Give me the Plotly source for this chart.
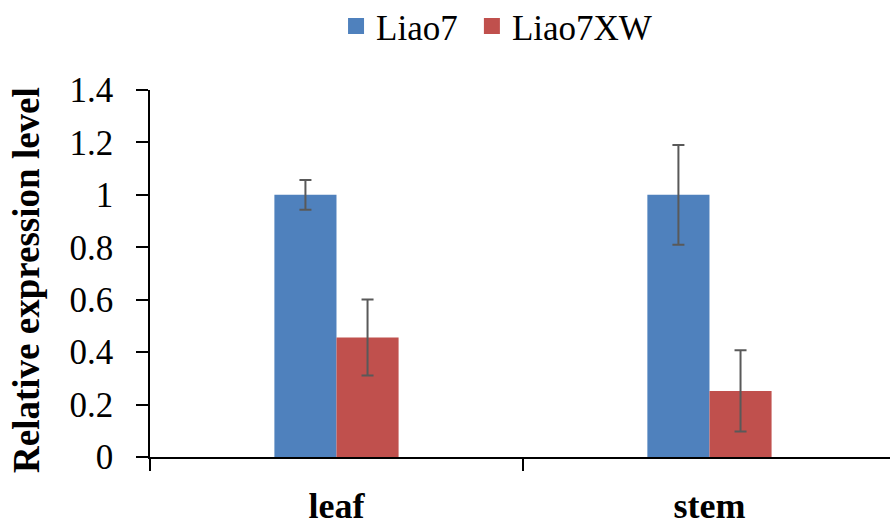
import plotly.graph_objects as go

categories = ["leaf", "stem"]
series_names = ["Liao7", "Liao7XW"]
liao7_values = [1.0, 1.0]
liao7_errors = [0.057, 0.19]
liao7xw_values = [0.456, 0.252]
liao7xw_errors = [0.145, 0.155]
y_tick_values = [0, 0.2, 0.4, 0.6, 0.8, 1.0, 1.2, 1.4]
y_tick_labels = ["0", "0.2", "0.4", "0.6", "0.8", "1", "1.2", "1.4"]

colors = ["#4F81BD", "#C0504D"]
font_family = "Liberation Serif"

fig = go.Figure()
for name, vals, errs, col, leg in [
    (series_names[0], liao7_values, liao7_errors, colors[0], "legend"),
    (series_names[1], liao7xw_values, liao7xw_errors, colors[1], "legend2"),
]:
    fig.add_trace(go.Bar(
        x=categories, y=vals, name=name, marker_color=col,
        marker_line_width=0, showlegend=False,
        error_y=dict(type="data", array=errs, visible=True,
                     color="#595959", thickness=2, width=6),
    ))
    # legend proxy with larger square symbol
    fig.add_trace(go.Scatter(
        x=[None], y=[None], mode="markers", name=name, legend=leg,
        marker=dict(symbol="square", size=20, color=col),
    ))

legend_common = dict(orientation="h", xanchor="left",
                     yref="container", y=0.95, yanchor="middle",
                     font=dict(size=35, family=font_family), itemsizing="trace",
                     bgcolor="rgba(0,0,0,0)")

fig.update_layout(
    width=890, height=527,
    margin=dict(l=150, r=0, t=90, b=70, autoexpand=False),
    paper_bgcolor="white", plot_bgcolor="white",
    font=dict(family=font_family, color="black", size=35),
    barmode="group", bargap=0.667, bargroupgap=0,
    legend=dict(x=0.2514, **legend_common),
    legend2=dict(x=0.435, **legend_common),
    xaxis=dict(
        range=[-0.5, 1.484], showline=True, linecolor="black", linewidth=1.5,
        ticks="outside", tickson="boundaries", ticklen=12, tickwidth=1.5, tickcolor="black",
        tickfont=dict(size=36, family=font_family, weight="bold"),
        showgrid=False, zeroline=False, ticklabelstandoff=16, automargin=False,
    ),
    yaxis=dict(
        range=[0, 1.4], tickvals=y_tick_values, ticktext=y_tick_labels,
        showline=True, linecolor="black", linewidth=1.5,
        ticks="outside", ticklen=12, tickwidth=1.5, tickcolor="black",
        tickfont=dict(size=35, family=font_family),
        showgrid=False, zeroline=False, ticklabelstandoff=16, automargin=False,
    ),
    annotations=[dict(
        text="<b>Relative expression level</b>", textangle=-90,
        xref="paper", yref="paper", x=-0.166, y=0.483,
        xanchor="center", yanchor="middle", showarrow=False,
        font=dict(size=37, family=font_family, color="black"),
    )],
)

fig.write_html("out.html", config={"displayModeBar": False},
               post_script="document.body.style.margin='0';")
